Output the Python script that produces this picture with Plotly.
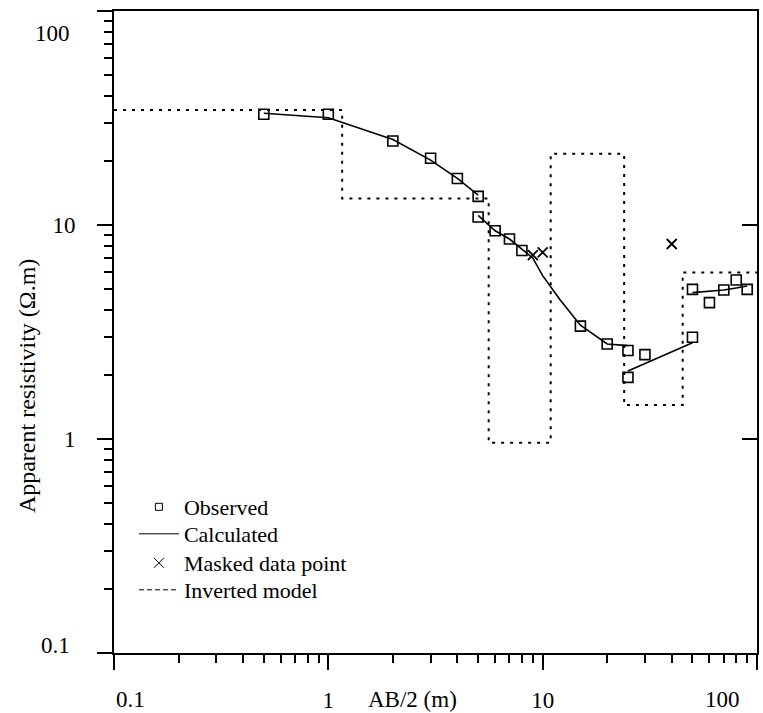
import math
import plotly.graph_objects as go

# ---------------- data ----------------
obs_x = [0.5, 1, 2, 3, 4, 5, 5, 6, 7, 8, 15, 20, 25, 30, 25, 50, 50, 60, 70, 80, 90]
obs_y = [32.9, 32.9, 24.7, 20.5, 16.5, 13.6, 10.9, 9.4, 8.6, 7.6, 3.37, 2.78,
         2.59, 2.48, 1.94, 2.99, 5.0, 4.34, 4.97, 5.53, 5.0]

masked_x = [9, 10, 40]
masked_y = [7.24, 7.45, 8.15]

calc_seg1_x = [0.5, 1, 2, 3, 4, 5]
calc_seg1_y = [33.3, 31.7, 25.1, 20.1, 16.5, 13.8]
calc_seg2_x = [5, 6, 7, 8, 9, 10, 12, 15, 20, 25]
calc_seg2_y = [11.1, 9.4, 8.6, 7.7, 7.0, 5.8, 4.5, 3.4, 2.78, 2.73]
calc_seg3_x = [25, 50]
calc_seg3_y = [2.08, 2.82]
calc_seg4_x = [50, 60, 70, 80, 90]
calc_seg4_y = [4.83, 4.9, 4.97, 5.08, 5.19]

model_bounds = [0.1, 1.16, 5.6, 10.9, 24, 45, 100]
model_rho = [34.5, 13.3, 0.96, 21.5, 1.44, 6.0]

tick_vals = [0.1, 1, 10, 100]
tick_text = ["0.1", "1", "10", "100"]

legend_names = ["Observed", "Calculated", "Masked data point", "Inverted model"]

x_title = "AB/2 (m)"
y_title = "Apparent resistivity (\u03a9.m)"

# ---------------- styling ----------------
FONT = "Liberation Serif"
BLACK = "#000000"

minor_vals = [m * 10 ** e for e in range(-1, 2) for m in range(2, 10)]

fig = go.Figure()

# inverted model (step)
fig.add_trace(go.Scatter(
    x=model_bounds, y=model_rho + [model_rho[-1]], mode="lines",
    line=dict(color=BLACK, width=2, dash="3px,6px", shape="hv"),
    showlegend=False, hoverinfo="skip"))

# calculated segments
for sx, sy in [(calc_seg1_x, calc_seg1_y), (calc_seg2_x, calc_seg2_y),
               (calc_seg3_x, calc_seg3_y), (calc_seg4_x, calc_seg4_y)]:
    fig.add_trace(go.Scatter(x=sx, y=sy, mode="lines",
                             line=dict(color=BLACK, width=1.6),
                             showlegend=False, hoverinfo="skip"))

# observed
fig.add_trace(go.Scatter(
    x=obs_x, y=obs_y, mode="markers",
    marker=dict(symbol="square-open", size=10, color=BLACK, line=dict(width=1.6, color=BLACK)),
    showlegend=False))

# masked
fig.add_trace(go.Scatter(
    x=masked_x, y=masked_y, mode="markers",
    marker=dict(symbol="x-thin-open", size=10, color=BLACK, line=dict(width=1.8, color=BLACK)),
    showlegend=False))

# legend entries (each in its own legend box so the row spacing can match)
legend_traces = [
    dict(mode="markers", marker=dict(symbol="square-open", size=7, color=BLACK,
                                     line=dict(width=1, color=BLACK))),
    dict(mode="lines", line=dict(color=BLACK, width=1)),
    dict(mode="markers", marker=dict(symbol="x-thin-open", size=10, color=BLACK,
                                     line=dict(width=1, color=BLACK))),
    dict(mode="lines", line=dict(color=BLACK, width=1, dash="5px,3px")),
]
legend_keys = ["legend", "legend2", "legend3", "legend4"]
legend_rows = [507, 534, 563, 590]  # row centres (px from top)
for name, spec, key in zip(legend_names, legend_traces, legend_keys):
    fig.add_trace(go.Scatter(x=[None], y=[None], name=name, legend=key, **spec))

# helper for right-hand inward ticks
fig.add_trace(go.Scatter(x=[None], y=[None], yaxis="y2", showlegend=False, hoverinfo="skip"))

axis_common = dict(
    type="log", range=[-1, 2], showgrid=False, zeroline=False, automargin=False,
    showline=True, linecolor=BLACK, linewidth=2, mirror=True,
    ticks="outside", ticklen=15, tickwidth=2, tickcolor=BLACK,
    tickmode="array", tickvals=tick_vals,
    ticktext=[""] + tick_text[1:3] + [""],
    tickfont=dict(family=FONT, size=23, color=BLACK),
    minor=dict(tickmode="array", tickvals=minor_vals, ticks="outside",
               ticklen=8, tickwidth=1.6, tickcolor=BLACK),
)

PLOT_TOP, PLOT_BOTTOM, PLOT_LEFT, PLOT_RIGHT = 11, 653, 114, 757
plot_h = PLOT_BOTTOM - PLOT_TOP
plot_w = PLOT_RIGHT - PLOT_LEFT

layout_legends = {}
for key, row in zip(legend_keys, legend_rows):
    layout_legends[key] = dict(
        x=0.031, y=(PLOT_BOTTOM - row) / plot_h, xanchor="left", yanchor="middle",
        bgcolor="rgba(0,0,0,0)", borderwidth=0, itemwidth=40,
        font=dict(family=FONT, size=22, color=BLACK))

fig.update_layout(
    width=763, height=713,
    margin=dict(l=PLOT_LEFT, r=763 - PLOT_RIGHT, t=PLOT_TOP, b=713 - PLOT_BOTTOM,
                autoexpand=False),
    paper_bgcolor="white", plot_bgcolor="white",
    font=dict(family=FONT, color=BLACK),
    xaxis=dict(axis_common, ticklabelstandoff=10),
    yaxis=dict(axis_common, ticklabelstandoff=17),
    yaxis2=dict(type="log", range=[-1, 2], overlaying="y", side="right",
                showgrid=False, zeroline=False, showline=False, automargin=False,
                ticks="inside", ticklen=15, tickwidth=2, tickcolor=BLACK,
                tickmode="array", tickvals=tick_vals[1:3], showticklabels=False),
    showlegend=True,
    **layout_legends,
)

annotations = [
    # edge tick labels (shifted inward in the original)
    dict(x=math.log10(tick_vals[0]), xref="x", y=-0.0717, yref="paper",
         text=tick_text[0], showarrow=False, xshift=16, yanchor="middle",
         font=dict(family=FONT, size=23, color=BLACK)),
    dict(x=math.log10(tick_vals[-1]), xref="x", y=-0.0717, yref="paper",
         text=tick_text[-1], showarrow=False, xshift=-35, yanchor="middle",
         font=dict(family=FONT, size=23, color=BLACK)),
    dict(x=-0.065, xref="paper", y=math.log10(tick_vals[0]), yref="y",
         text=tick_text[0], showarrow=False, xanchor="right", yshift=8,
         font=dict(family=FONT, size=23, color=BLACK)),
    dict(x=-0.065, xref="paper", y=math.log10(tick_vals[-1]), yref="y",
         text=tick_text[-1], showarrow=False, xanchor="right", yshift=-22,
         font=dict(family=FONT, size=23, color=BLACK)),
    # axis titles
    dict(x=(412 - PLOT_LEFT) / plot_w, xref="paper", y=-0.0717, yref="paper",
         text=x_title, showarrow=False, yanchor="middle",
         font=dict(family=FONT, size=23, color=BLACK)),
    dict(x=-0.135, xref="paper", y=0.416, yref="paper", textangle=-90,
         text=y_title, showarrow=False, xanchor="center", yanchor="middle",
         font=dict(family=FONT, size=24, color=BLACK)),
]
fig.update_layout(annotations=annotations)

fig.write_html("out.html", config={"displayModeBar": False},
               post_script="document.body.style.margin='0';")
